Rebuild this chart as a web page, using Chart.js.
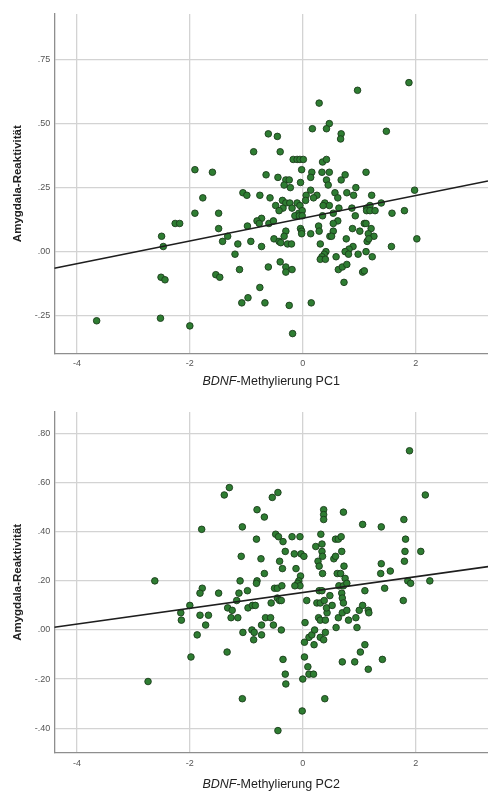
<!DOCTYPE html>
<html>
<head>
<meta charset="utf-8">
<script src="https://cdn.jsdelivr.net/npm/chart.js@4.4.1/dist/chart.umd.min.js"></script>
<style>
  body { margin: 0; background: #fff; }
  .box { position: absolute; left: 0; width: 488px; }
</style>
</head>
<body>
<div class="box" style="top:0;height:396px"><canvas id="c1" width="488" height="396"></canvas></div>
<div class="box" style="top:396px;height:395px"><canvas id="c2" width="488" height="395"></canvas></div>
<script>
// tick values
const xTicks = [-4, -2, 0, 2];
const yTicks1 = [-0.25, 0, 0.25, 0.5, 0.75];
const yTicks2 = [-0.4, -0.2, 0, 0.2, 0.4, 0.6, 0.8];

// PC1 scatter
const pc1X = [
  -1.91,-1.60,1.88,0.97,0.29,0.47,0.42,0.17,-0.61,-0.45,
  0.68,0.67,1.48,-0.87,-0.40,-0.17,-0.10,-0.05,0.01,0.35,
  0.42,-0.02,0.16,0.34,0.47,0.14,0.42,0.45,0.68,0.75,
  1.12,-0.65,-0.44,-0.30,-0.24,-0.33,-0.22,-0.04,0.14,0.94,
  0.57,0.62,0.78,0.90,1.22,1.98,-0.76,-0.58,0.06,0.25,
  0.05,0.19,-0.36,-0.30,-0.23,-0.10,-0.05,-0.48,0.39,0.47,
  0.36,0.64,0.87,1.13,1.19,1.39,-0.35,-0.19,-0.42,-0.07,
  -0.01,0.54,0.93,1.13,1.19,1.28,1.58,1.80,-0.73,-0.60,
  -0.52,-0.14,-0.06,-0.01,0.35,0.62,0.54,1.09,1.12,0.28,
  0.29,-0.04,-0.02,-0.02,0.14,0.54,0.88,1.01,1.21,1.16,
  1.26,0.48,0.51,0.77,1.14,1.17,0.31,-0.30,-0.33,-0.51,
  -0.42,-0.39,-0.27,-0.20,-0.73,0.89,0.82,0.75,0.81,0.98,
  1.12,1.23,1.57,2.02,0.41,0.38,0.34,0.31,0.40,0.59,
  -0.40,-0.61,-0.30,-0.19,-0.30,0.63,0.70,0.78,1.06,1.09,
  0.73,-0.67,-0.24,0.15,-0.18,-1.77,-1.06,-0.99,-1.91,-1.49,
  -1.49,-1.42,-1.33,-2.26,-2.18,-2.50,-2.47,-0.98,-0.81,-0.77,
  -0.92,-1.15,-1.20,-1.12,-1.54,-1.47,-2.51,-2.44,-1.08,-0.97,
  -0.76,-3.65,-2.52,-2.00
];
const pc1Y = [
  0.32,0.31,0.66,0.63,0.58,0.50,0.48,0.48,0.46,0.45,
  0.46,0.44,0.47,0.39,0.39,0.36,0.36,0.36,0.36,0.35,
  0.36,0.32,0.31,0.31,0.31,0.29,0.28,0.26,0.28,0.30,
  0.31,0.30,0.29,0.28,0.28,0.26,0.25,0.27,0.24,0.25,
  0.23,0.21,0.23,0.22,0.22,0.24,0.22,0.21,0.22,0.22,
  0.20,0.21,0.20,0.19,0.19,0.19,0.18,0.18,0.19,0.18,
  0.18,0.17,0.17,0.17,0.18,0.19,0.17,0.17,0.16,0.15,
  0.16,0.15,0.14,0.16,0.16,0.16,0.15,0.16,0.13,0.11,
  0.12,0.14,0.14,0.14,0.14,0.12,0.11,0.11,0.11,0.10,
  0.08,0.09,0.08,0.07,0.07,0.08,0.09,0.08,0.09,0.07,
  0.06,0.06,0.06,0.05,0.04,0.05,0.03,0.08,0.06,0.05,
  0.04,0.035,0.03,0.03,0.02,0.02,0.01,0.00,-0.01,-0.01,
  0.00,-0.02,0.02,0.05,0.00,-0.01,-0.02,-0.03,-0.03,-0.02,
  -0.04,-0.06,-0.06,-0.07,-0.08,-0.07,-0.06,-0.05,-0.08,-0.075,
  -0.12,-0.20,-0.21,-0.20,-0.32,0.21,0.23,0.22,0.15,0.15,
  0.09,0.04,0.06,0.11,0.11,0.06,0.02,0.10,0.12,0.11,
  0.04,0.03,-0.01,-0.07,-0.09,-0.10,-0.10,-0.11,-0.20,-0.18,
  -0.14,-0.27,-0.26,-0.29
];
const fit1X = [-4.40, 3.28];
const fit1Y = [-0.065, 0.276];

// PC2 scatter
const pc2X = [
  1.89,-1.30,-1.39,-0.44,-0.54,2.17,-0.81,-0.68,0.37,0.37,
  0.37,0.72,-1.79,-1.07,1.79,1.06,1.39,-0.82,-0.48,-0.43,
  -0.35,-0.19,-0.05,0.32,0.34,0.23,0.58,0.63,0.68,1.82,
  -0.31,-0.15,-0.03,0.02,0.34,0.35,0.69,0.55,0.58,1.81,
  2.09,-1.09,-0.74,-0.41,-0.12,0.27,0.29,0.73,1.80,-0.36,
  -0.68,0.35,0.61,0.67,0.75,1.39,1.38,1.55,-2.62,-1.11,
  -0.81,-0.82,-0.04,-0.07,-0.09,-0.05,-0.14,1.86,1.91,2.25,
  0.29,0.34,0.64,0.72,0.78,1.45,-1.78,-1.82,-1.13,-0.98,
  -1.49,1.10,-0.50,-0.45,-0.37,0.69,0.70,0.72,-1.17,-2.00,
  -2.16,-2.15,-1.82,-1.67,-1.72,-1.87,-1.98,-2.74,-1.33,-1.25,
  -1.27,-1.15,-0.97,-0.89,-0.84,-0.56,-1.06,-0.90,-0.86,-0.73,
  -0.87,-0.66,-0.57,-0.73,-0.52,-0.38,-1.34,-0.35,-0.31,-0.30,
  -1.07,-0.44,-0.45,-0.41,-0.38,-0.01,0.39,0.00,0.03,0.09,
  0.11,0.19,0.03,0.11,0.16,0.20,0.21,0.31,0.37,0.40,
  0.59,0.96,0.70,0.92,1.02,1.10,1.16,1.41,0.04,0.07,
  0.25,0.31,0.38,0.48,0.28,0.31,0.40,0.43,0.42,0.52,
  0.63,0.70,0.81,0.78,0.94,1.00,1.06,1.16,1.17,1.78
];
const pc2Y = [
  0.73,0.58,0.55,0.56,0.54,0.55,0.49,0.46,0.49,0.47,
  0.45,0.48,0.41,0.42,0.45,0.43,0.42,0.37,0.39,0.38,
  0.36,0.38,0.38,0.39,0.35,0.34,0.37,0.37,0.38,0.37,
  0.32,0.31,0.31,0.30,0.32,0.30,0.32,0.29,0.30,0.32,
  0.32,0.30,0.29,0.28,0.25,0.28,0.26,0.26,0.28,0.25,
  0.23,0.23,0.23,0.23,0.21,0.27,0.23,0.24,0.20,0.20,
  0.20,0.19,0.22,0.20,0.19,0.18,0.18,0.20,0.19,0.20,
  0.16,0.16,0.18,0.18,0.19,0.17,0.17,0.15,0.15,0.16,
  0.15,0.16,0.17,0.17,0.18,0.15,0.13,0.11,0.12,0.10,
  0.07,0.04,0.06,0.06,0.02,-0.02,-0.11,-0.21,0.09,0.08,
  0.05,0.05,0.09,0.10,0.10,0.11,-0.01,0.00,-0.01,-0.02,
  -0.04,0.05,0.05,0.02,0.02,0.00,-0.09,-0.12,-0.18,-0.22,
  -0.28,-0.41,0.13,0.12,0.12,-0.33,-0.28,-0.20,-0.11,-0.15,
  -0.18,-0.18,-0.05,-0.03,-0.02,-0.06,0.00,-0.03,-0.04,-0.01,
  0.01,0.01,-0.13,-0.13,-0.09,-0.06,-0.16,-0.12,0.03,0.12,
  0.11,0.11,0.12,0.14,0.05,0.04,0.04,0.07,0.09,0.10,
  0.05,0.07,0.04,0.08,0.05,0.08,0.10,0.08,0.07,0.12
];
const fit2X = [-4.40, 3.28];
const fit2Y = [0.011, 0.258];

const FONT = '"Liberation Sans", Arial, sans-serif';

function fmt(v) {
  return v.toFixed(2).replace('0.', '.');
}

// x title with italic gene name
const xTitlePlugin = {
  id: 'xTitle',
  afterDraw(chart, args, opts) {
    const c = chart.ctx, a = chart.chartArea;
    const f1 = 'italic 12.5px ' + FONT;
    const f2 = '12.5px ' + FONT;
    c.save();
    c.fillStyle = '#222';
    c.textBaseline = 'middle';
    c.textAlign = 'left';
    c.font = f1; const w1 = c.measureText(opts.italic).width;
    c.font = f2; const w2 = c.measureText(opts.rest).width;
    const x0 = (a.left + a.right) / 2 - (w1 + w2) / 2;
    c.font = f1; c.fillText(opts.italic, x0, opts.y);
    c.font = f2; c.fillText(opts.rest, x0 + w1, opts.y);
    c.restore();
  }
};

function makeChart(id, xs, ys, fx, fy, yT, yMin, yMax, padTop, xH, label, titleY) {
  const pts = xs.map((x, i) => ({ x: x, y: ys[i] }));
  const line = fx.map((x, i) => ({ x: x, y: fy[i] }));
  return new Chart(document.getElementById(id), {
    type: 'scatter',
    data: {
      datasets: [{
        type: 'line',
        data: line,
        borderColor: '#1e1e1e',
        borderWidth: 1.7,
        pointRadius: 0,
        fill: false
      }, {
        data: pts,
        backgroundColor: '#2e7d32',
        borderColor: '#1c3d1c',
        borderWidth: 0.9,
        pointRadius: 3.3,
        pointHoverRadius: 3.3
      }]
    },
    options: {
      responsive: false,
      animation: false,
      events: [],
      layout: { autoPadding: false, padding: { top: padTop, right: 0, bottom: 0, left: 0 } },
      plugins: {
        legend: { display: false },
        tooltip: { enabled: false },
        xTitle: { italic: 'BDNF', rest: '-Methylierung ' + label, y: titleY }
      },
      scales: {
        x: {
          type: 'linear',
          min: -4.40,
          max: 3.28,
          afterBuildTicks: s => { s.ticks = xTicks.map(v => ({ value: v })); },
          afterFit: s => { s.height = xH; },
          grid: { color: '#d3d3d3', lineWidth: 1.3, drawTicks: false },
          border: { color: '#8e8e8e', width: 1.3 },
          ticks: { padding: 5, color: '#555', font: { family: FONT, size: 9 }, callback: v => String(v) }
        },
        y: {
          type: 'linear',
          min: yMin,
          max: yMax,
          afterBuildTicks: s => { s.ticks = yT.map(v => ({ value: v })); },
          afterFit: s => { s.width = 54.3; },
          grid: { color: '#d3d3d3', lineWidth: 1.3, drawTicks: false },
          border: { color: '#8e8e8e', width: 1.3 },
          ticks: { padding: 4, color: '#555', font: { family: FONT, size: 9 }, callback: v => fmt(v) },
          title: {
            display: true,
            text: 'Amygdala-Reaktivität',
            color: '#222',
            font: { family: FONT, size: 11.5, weight: 'bold' },
            padding: { top: 11, bottom: 0 }
          }
        }
      }
    },
    plugins: [xTitlePlugin]
  });
}

makeChart('c1', pc1X, pc1Y, fit1X, fit1Y, yTicks1, -0.397, 0.928, 14, 42.7, 'PC1', 382);
makeChart('c2', pc2X, pc2Y, fit2X, fit2Y, yTicks2, -0.50, 0.888, 16, 38.3, 'PC2', 389);
</script>
</body>
</html>
